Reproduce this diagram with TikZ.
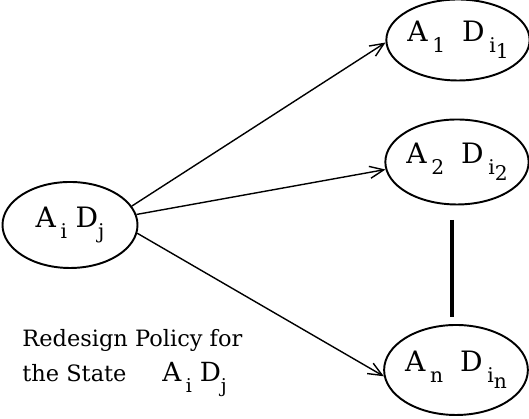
\documentclass[tikz,border=0pt]{standalone}
\usepackage{fontspec}
\setmainfont{DejaVu Serif}
\usetikzlibrary{shapes.geometric,arrows.meta}

% lowered index, about two thirds of the size in force
\newcommand{\lo}[1]{\raisebox{-0.38em}{\fontsize{0.72\dimexpr\csname f@size\endcsname pt\relax}{1em}\selectfont #1}}
% action/decision pair, e.g. \ad{1}
\newcommand{\ad}[1]{A\,\lo{#1}\hspace{0.6em}D\,\lo{i\raisebox{-0.3em}{#1}}}

\begin{document}
\begin{tikzpicture}[
    policy/.style={ellipse, draw, line width=1.1pt, inner sep=0pt,
        minimum width=2.74cm, minimum height=1.62cm, font=\fontsize{16}{18}\selectfont},
    move/.style={line width=0.8pt, -{Straight Barb[length=2.8mm, width=2.4mm, line width=0.8pt]}},
    caption/.style={anchor=base west, inner xsep=0pt, font=\fontsize{12.8}{14}\selectfont}
]
    \useasboundingbox (0,0) rectangle (10.58,8.38);

    \node[policy, minimum width=2.7cm, minimum height=1.72cm] (src) at (1.40,3.88)
        {A\,\lo{i}\hspace{0.3em}D\lo{j}};
    \node[policy] (a1) at (9.16,7.58) {\ad{1}};
    \node[policy, minimum height=1.7cm] (a2) at (9.14,5.14) {\ad{2}};
    \node[policy, minimum width=2.84cm, minimum height=1.8cm] (an) at (9.12,0.98) {\ad{n}};

    \draw[move] (src.17) -- (a1.182);
    \draw[move] (src.9) -- (a2.186);
    \draw[move] (src.-7) -- (an.185);

    % the states between 2 and n
    \draw[line width=2.8pt] (9.04,3.98) -- (9.04,2.04);

    \node[caption] (title) at (0.44,1.44) {Redesign Policy for};
    \node[caption] (state) at (0.44,0.74) {the State};
    \node[caption, font=\fontsize{15}{17}\selectfont] (stateij) at (3.24,0.74)
        {A\,\lo{i}\hspace{0.3em}D\lo{j}};
\end{tikzpicture}
\end{document}
